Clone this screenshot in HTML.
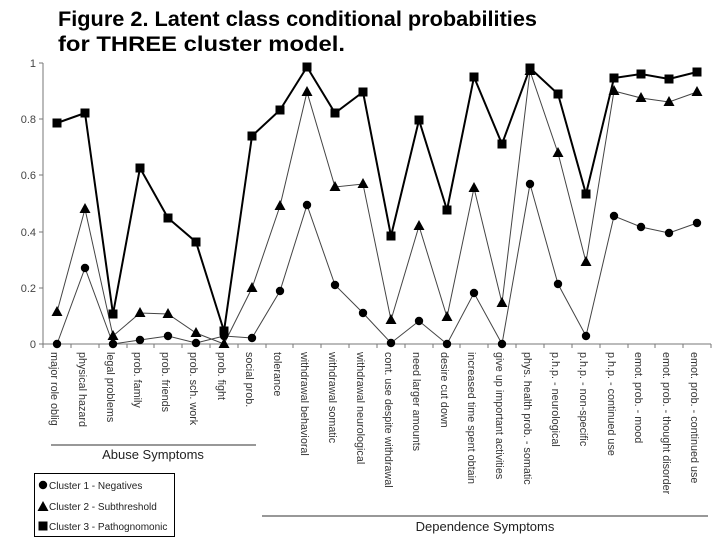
<!DOCTYPE html>
<html><head><meta charset="utf-8"><style>
html,body{margin:0;padding:0;background:#fff}
svg{display:block;font-family:"Liberation Sans",Arial,sans-serif}
</style></head><body>
<svg width="720" height="540" viewBox="0 0 720 540" xmlns="http://www.w3.org/2000/svg">
<defs>
<circle id="c" r="4.2" fill="#000"/>
<polygon id="t" points="0,-6 5.5,4 -5.5,4" fill="#000"/>
<rect id="s" x="-4.5" y="-4.5" width="9" height="9" fill="#000"/>
</defs>
<text x="58" y="26" font-size="21" font-weight="bold" fill="#000" textLength="479" lengthAdjust="spacingAndGlyphs">Figure 2. Latent class conditional probabilities</text>
<text x="58" y="51" font-size="21" font-weight="bold" fill="#000" textLength="287" lengthAdjust="spacingAndGlyphs">for THREE cluster model.</text>
<g stroke="#777" stroke-width="1" fill="none">
<line x1="43" y1="63" x2="43" y2="344"/>
<line x1="43" y1="344" x2="711" y2="344"/>
<line x1="39" y1="63" x2="43" y2="63"/><line x1="39" y1="119" x2="43" y2="119"/><line x1="39" y1="175" x2="43" y2="175"/><line x1="39" y1="232" x2="43" y2="232"/><line x1="39" y1="288" x2="43" y2="288"/><line x1="39" y1="344" x2="43" y2="344"/>
<path d="M43 344v4M71 344v4M99 344v4M127 344v4M154 344v4M182 344v4M210 344v4M238 344v4M266 344v4M293 344v4M321 344v4M349 344v4M377 344v4M405 344v4M433 344v4M460 344v4M488 344v4M516 344v4M544 344v4M572 344v4M600 344v4M628 344v4M655 344v4M683 344v4M711 344v4"/>
</g>
<g font-size="11" fill="#444" text-anchor="end">
<text x="36" y="67">1</text><text x="36" y="123">0.8</text><text x="36" y="179">0.6</text><text x="36" y="236">0.4</text><text x="36" y="292">0.2</text><text x="36" y="348">0</text>
</g>
<polyline fill="none" stroke="#444" stroke-width="1" points="57,344 85,268 113,344 140,340 168,336 196,343 224,336 252,338 280,291 307,205 335,285 363,313 391,343 419,321 447,344 474,293 502,344 530,184 558,284 586,336 614,216 641,227 669,233 697,223"/>
<polyline fill="none" stroke="#444" stroke-width="1" points="57,312 85,209 113,336 140,313 168,314 196,333 224,344 252,288 280,206 307,92 335,187 363,184 391,320 419,226 447,317 474,188 502,303 530,71 558,153 586,262 614,91 641,98 669,102 697,92"/>
<polyline fill="none" stroke="#000" stroke-width="2" points="57,123 85,113 113,314 140,168 168,218 196,242 224,331 252,136 280,110 307,67 335,113 363,92 391,236 419,120 447,210 474,77 502,144 530,68 558,94 586,194 614,78 641,74 669,79 697,72"/>
<g>
<use href="#c" x="57" y="344"/><use href="#c" x="85" y="268"/><use href="#c" x="113" y="344"/><use href="#c" x="140" y="340"/><use href="#c" x="168" y="336"/><use href="#c" x="196" y="343"/><use href="#c" x="224" y="336"/><use href="#c" x="252" y="338"/><use href="#c" x="280" y="291"/><use href="#c" x="307" y="205"/><use href="#c" x="335" y="285"/><use href="#c" x="363" y="313"/><use href="#c" x="391" y="343"/><use href="#c" x="419" y="321"/><use href="#c" x="447" y="344"/><use href="#c" x="474" y="293"/><use href="#c" x="502" y="344"/><use href="#c" x="530" y="184"/><use href="#c" x="558" y="284"/><use href="#c" x="586" y="336"/><use href="#c" x="614" y="216"/><use href="#c" x="641" y="227"/><use href="#c" x="669" y="233"/><use href="#c" x="697" y="223"/>
<use href="#t" x="57" y="312"/><use href="#t" x="85" y="209"/><use href="#t" x="113" y="336"/><use href="#t" x="140" y="313"/><use href="#t" x="168" y="314"/><use href="#t" x="196" y="333"/><use href="#t" x="224" y="344"/><use href="#t" x="252" y="288"/><use href="#t" x="280" y="206"/><use href="#t" x="307" y="92"/><use href="#t" x="335" y="187"/><use href="#t" x="363" y="184"/><use href="#t" x="391" y="320"/><use href="#t" x="419" y="226"/><use href="#t" x="447" y="317"/><use href="#t" x="474" y="188"/><use href="#t" x="502" y="303"/><use href="#t" x="530" y="71"/><use href="#t" x="558" y="153"/><use href="#t" x="586" y="262"/><use href="#t" x="614" y="91"/><use href="#t" x="641" y="98"/><use href="#t" x="669" y="102"/><use href="#t" x="697" y="92"/>
<use href="#s" x="57" y="123"/><use href="#s" x="85" y="113"/><use href="#s" x="113" y="314"/><use href="#s" x="140" y="168"/><use href="#s" x="168" y="218"/><use href="#s" x="196" y="242"/><use href="#s" x="224" y="331"/><use href="#s" x="252" y="136"/><use href="#s" x="280" y="110"/><use href="#s" x="307" y="67"/><use href="#s" x="335" y="113"/><use href="#s" x="363" y="92"/><use href="#s" x="391" y="236"/><use href="#s" x="419" y="120"/><use href="#s" x="447" y="210"/><use href="#s" x="474" y="77"/><use href="#s" x="502" y="144"/><use href="#s" x="530" y="68"/><use href="#s" x="558" y="94"/><use href="#s" x="586" y="194"/><use href="#s" x="614" y="78"/><use href="#s" x="641" y="74"/><use href="#s" x="669" y="79"/><use href="#s" x="697" y="72"/>
</g>
<g font-size="10.8" fill="#333">
<text transform="translate(51,352) rotate(90)">major role oblig</text>
<text transform="translate(79,352) rotate(90)">physical hazard</text>
<text transform="translate(107,352) rotate(90)">legal problems</text>
<text transform="translate(134,352) rotate(90)">prob. family</text>
<text transform="translate(162,352) rotate(90)">prob. friends</text>
<text transform="translate(190,352) rotate(90)">prob. sch. work</text>
<text transform="translate(218,352) rotate(90)">prob. fight</text>
<text transform="translate(246,352) rotate(90)">social prob.</text>
<text transform="translate(274,352) rotate(90)">tolerance</text>
<text transform="translate(301,352) rotate(90)">withdrawal behavioral</text>
<text transform="translate(329,352) rotate(90)">withdrawal somatic</text>
<text transform="translate(357,352) rotate(90)">withdrawal neurological</text>
<text transform="translate(385,352) rotate(90)">cont. use despite withdrawal</text>
<text transform="translate(413,352) rotate(90)">need larger amounts</text>
<text transform="translate(441,352) rotate(90)">desire cut down</text>
<text transform="translate(468,352) rotate(90)">increased time spent obtain</text>
<text transform="translate(496,352) rotate(90)">give up important activities</text>
<text transform="translate(524,352) rotate(90)">phys. health prob. - somatic</text>
<text transform="translate(552,352) rotate(90)">p.h.p. - neurological</text>
<text transform="translate(580,352) rotate(90)">p.h.p. - non-specific</text>
<text transform="translate(608,352) rotate(90)">p.h.p. - continued use</text>
<text transform="translate(635,352) rotate(90)">emot. prob. - mood</text>
<text transform="translate(663,352) rotate(90)">emot. prob. - thought disorder</text>
<text transform="translate(691,352) rotate(90)">emot. prob. - continued use</text>
</g>
<line x1="51" y1="445" x2="256" y2="445" stroke="#777" stroke-width="1.5"/>
<text x="153" y="459" font-size="13" fill="#222" text-anchor="middle">Abuse Symptoms</text>
<line x1="262" y1="516" x2="708" y2="516" stroke="#777" stroke-width="1.5"/>
<text x="485" y="531" font-size="13" fill="#222" text-anchor="middle">Dependence Symptoms</text>
<rect x="34.5" y="473.5" width="140" height="63" fill="#fff" stroke="#000" stroke-width="1"/>
<use href="#c" x="43" y="485"/><use href="#t" x="43" y="507"/><use href="#s" x="43" y="526"/>
<g font-size="10" fill="#222">
<text x="49" y="489">Cluster 1 - Negatives</text>
<text x="49" y="510">Cluster 2 - Subthreshold</text>
<text x="49" y="530">Cluster 3 - Pathognomonic</text>
</g>
</svg>
</body></html>
